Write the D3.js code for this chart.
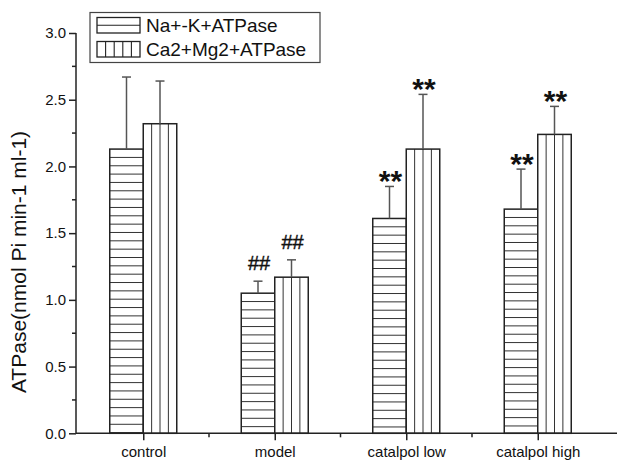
<!DOCTYPE html>
<html>
<head>
<meta charset="utf-8">
<script src="https://cdn.jsdelivr.net/npm/d3@7"></script>
<style>
  html, body { margin: 0; padding: 0; background: #fff; }
  svg { display: block; font-family: "Liberation Sans", Arial, sans-serif; }
</style>
</head>
<body>
<svg id="chart" width="617" height="462"></svg>
<script>
// ATPase activity per group (mean and SD)
const categories = ["control", "model", "catalpol low", "catalpol high"];
const seriesNames = ["Na+-K+ATPase", "Ca2+Mg2+ATPase"];
const naK      = [2.13, 1.05, 1.61, 1.68];
const naKErr   = [0.54, 0.09, 0.24, 0.30];
const caMg     = [2.32, 1.17, 2.13, 2.24];
const caMgErr  = [0.32, 0.13, 0.41, 0.21];
const naKSig   = ["", "##", "**", "**"];
const caMgSig  = ["", "##", "**", "**"];
const yTicks   = [0, 0.5, 1.0, 1.5, 2.0, 2.5, 3.0];
const yMinor   = [0.25, 0.75, 1.25, 1.75, 2.25, 2.75];

const svg = d3.select("#chart");
const axisX = 76, baseY = 433.3, topY = 33;
const ink = "#222", errInk = "#555";

const y = d3.scaleLinear().domain([0, 3]).range([baseY, topY]);
// one slot per group, centred on its tick
const x = d3.scaleLinear().domain([-0.5, 3.5]).range([77.5, 603.5]);
const barW = 33.5;

// bars: Na/K with horizontal hatching, Ca/Mg with vertical hatching
const bars = [];
categories.forEach((c, i) => {
  bars.push({ i, s: 0, v: naK[i], e: naKErr[i], sig: naKSig[i], x0: x(i) - barW });
  bars.push({ i, s: 1, v: caMg[i], e: caMgErr[i], sig: caMgSig[i], x0: x(i) });
});

const g = svg.append("g");

bars.forEach(b => {
  const top = y(b.v), bot = y(0);
  const x0 = b.x0, x1 = b.x0 + barW;
  const bg = g.append("g");
  bg.append("rect").attr("x", x0).attr("y", top).attr("width", barW).attr("height", bot - top)
    .attr("fill", "#fff");
  if (b.s === 0) {
    const step = (y(0) - y(1)) / 16;
    d3.range(top + step, bot, step).forEach(yy => {
      bg.append("line").attr("x1", x0).attr("x2", x1).attr("y1", yy).attr("y2", yy)
        .attr("stroke", "#333").attr("stroke-width", 1);
    });
  } else {
    [1, 2, 3].forEach(k => {
      const xx = x0 + k * barW / 4;
      bg.append("line").attr("x1", xx).attr("x2", xx).attr("y1", top).attr("y2", bot)
        .attr("stroke", "#333").attr("stroke-width", 1);
    });
  }
  bg.append("rect").attr("x", x0).attr("y", top).attr("width", barW).attr("height", bot - top)
    .attr("fill", "none").attr("stroke", ink).attr("stroke-width", 1.5);

  // upper error bar
  const cx = x0 + barW / 2, cap = y(b.v + b.e);
  bg.append("line").attr("x1", cx).attr("x2", cx).attr("y1", top).attr("y2", cap)
    .attr("stroke", errInk).attr("stroke-width", 1.5);
  bg.append("line").attr("x1", cx - 4.5).attr("x2", cx + 4.5).attr("y1", cap).attr("y2", cap)
    .attr("stroke", errInk).attr("stroke-width", 1.5);

  // significance marks
  if (b.sig === "**") {
    bg.append("text").attr("x", cx + 1).attr("y", cap + 5).attr("text-anchor", "middle")
      .attr("font-size", 30).attr("font-weight", "bold").attr("fill", "#111").text(b.sig);
  } else if (b.sig) {
    bg.append("text").attr("x", cx + 1).attr("y", cap - 11).attr("text-anchor", "middle")
      .attr("font-size", 20).attr("fill", "#111")
      .attr("stroke", "#111").attr("stroke-width", 0.4).text(b.sig);
  }
});

// y axis
const yAxis = d3.axisLeft(y).tickValues(yTicks).tickFormat(d3.format(".1f"))
  .tickSize(7).tickPadding(3);
const ya = svg.append("g").attr("transform", `translate(${axisX},0)`).call(yAxis);
ya.select(".domain").attr("d", `M0,${baseY}V${topY}`).attr("stroke", ink).attr("stroke-width", 1.5);
ya.selectAll(".tick line").attr("stroke", ink).attr("stroke-width", 1.5);
ya.selectAll(".tick text").attr("font-size", 15).attr("fill", "#111")
  .attr("font-family", "Liberation Sans, Arial, sans-serif");
ya.selectAll(".minor").data(yMinor).enter().append("line")
  .attr("x1", -4).attr("x2", 0).attr("y1", d => y(d)).attr("y2", d => y(d))
  .attr("stroke", ink).attr("stroke-width", 1.5);

// x axis
const xAxis = d3.axisBottom(x).tickValues(d3.range(categories.length))
  .tickFormat(i => categories[i]).tickSize(7).tickPadding(6);
const xa = svg.append("g").attr("transform", `translate(0,${baseY})`).call(xAxis);
xa.select(".domain").attr("d", `M${axisX},0H617`).attr("stroke", ink).attr("stroke-width", 1.5);
xa.selectAll(".tick line").attr("stroke", ink).attr("stroke-width", 1.5);
xa.selectAll(".tick text").attr("font-size", 15).attr("fill", "#111")
  .attr("font-family", "Liberation Sans, Arial, sans-serif");
xa.selectAll(".minor").data([0.5, 1.5, 2.5]).enter().append("line")
  .attr("x1", d => x(d)).attr("x2", d => x(d)).attr("y1", 0).attr("y2", 4)
  .attr("stroke", ink).attr("stroke-width", 1.5);

// y axis title
svg.append("text")
  .attr("transform", "translate(26,262) rotate(-90)")
  .attr("text-anchor", "middle").attr("font-size", 21).attr("fill", "#111")
  .text("ATPase(nmol Pi min-1 ml-1)");

// legend
const lg = svg.append("g");
lg.append("rect").attr("x", 90).attr("y", 12.5).attr("width", 230).attr("height", 50)
  .attr("fill", "#fff").attr("stroke", "#444").attr("stroke-width", 1.2);
const sw = { x: 97, w: 43 };
// row 1 swatch: horizontal hatch
lg.append("rect").attr("x", sw.x).attr("y", 17.5).attr("width", sw.w).attr("height", 15.5)
  .attr("fill", "#fff").attr("stroke", ink).attr("stroke-width", 1.3);
lg.append("line").attr("x1", sw.x).attr("x2", sw.x + sw.w).attr("y1", 25.2).attr("y2", 25.2)
  .attr("stroke", ink).attr("stroke-width", 1.1);
// row 2 swatch: vertical hatch
lg.append("rect").attr("x", sw.x).attr("y", 41.5).attr("width", sw.w).attr("height", 15.5)
  .attr("fill", "#fff").attr("stroke", ink).attr("stroke-width", 1.3);
[1, 2, 3, 4].forEach(k => {
  const xx = sw.x + k * sw.w / 5;
  lg.append("line").attr("x1", xx).attr("x2", xx).attr("y1", 41.5).attr("y2", 57)
    .attr("stroke", ink).attr("stroke-width", 1.1);
});
lg.selectAll(".ltext").data(seriesNames).enter().append("text")
  .attr("x", 146).attr("y", (d, i) => 32 + i * 24)
  .attr("font-size", 19).attr("fill", "#111").text(d => d);
</script>
</body>
</html>
